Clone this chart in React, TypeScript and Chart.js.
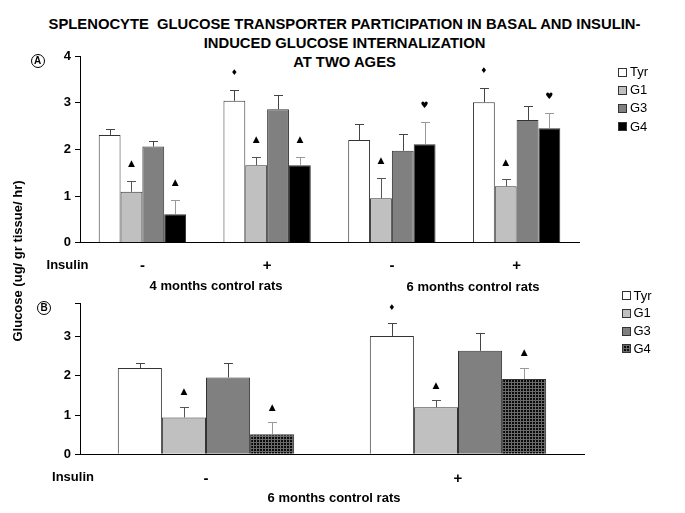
import React, { useEffect, useRef } from "react";
import { Chart, registerables } from "chart.js";

Chart.register(...registerables);

// ---------- text ----------
const TITLE_LINES = [
  "SPLENOCYTE  GLUCOSE TRANSPORTER PARTICIPATION IN BASAL AND INSULIN-",
  "INDUCED GLUCOSE INTERNALIZATION",
  "AT TWO AGES",
];
const Y_TITLE = "Glucose (ug/ gr tissue/ hr)";
const X_ROW_TITLE = "Insulin";
const SERIES = ["Tyr", "G1", "G3", "G4"];

// ---------- panel A (4 and 6 months) ----------
const A_CATEGORIES = ["-", "+", "-", "+"];
const A_AGE_LABELS = ["4 months control rats", "6 months control rats"];
const A_Y_MAX = 4;
const A_TYR = [2.31, 3.04, 2.2, 3.01];
const A_G1 = [1.09, 1.66, 0.95, 1.21];
const A_G3 = [2.06, 2.86, 1.97, 2.63];
const A_G4 = [0.61, 1.66, 2.11, 2.45];
const A_TYR_ERR = [0.12, 0.24, 0.34, 0.3];
const A_G1_ERR = [0.23, 0.18, 0.44, 0.15];
const A_G3_ERR = [0.12, 0.3, 0.35, 0.3];
const A_G4_ERR = [0.31, 0.18, 0.47, 0.32];
const A_TYR_MARK = ["", "♦", "", "♦"];
const A_G1_MARK = ["▲", "▲", "▲", "▲"];
const A_G3_MARK = ["", "", "", ""];
const A_G4_MARK = ["▲", "▲", "♥", "♥"];

// ---------- panel B (6 months) ----------
const B_CATEGORIES = ["-", "+"];
const B_AGE_LABEL = "6 months control rats";
const B_Y_MAX = 3.85;
const B_TYR = [2.2, 3.02];
const B_G1 = [0.94, 1.2];
const B_G3 = [1.96, 2.64];
const B_G4 = [0.51, 1.92];
const B_TYR_ERR = [0.12, 0.32];
const B_G1_ERR = [0.27, 0.18];
const B_G3_ERR = [0.38, 0.46];
const B_G4_ERR = [0.31, 0.28];
const B_TYR_MARK = ["", "♦"];
const B_G1_MARK = ["▲", "▲"];
const B_G3_MARK = ["", ""];
const B_G4_MARK = ["▲", "▲"];

// ---------- styles ----------
const FONT = '"Liberation Sans", Arial, Helvetica, sans-serif';
const FILL_A = ["#ffffff", "#c0c0c0", "#808080", "#000000"];
const FILL_B = ["#ffffff", "#c0c0c0", "#808080", "pattern"];
const ERR_COLORS = ["#444444", "#555555", "#444444", "#9a9a9a"];
const PATTERN_DARK = "#0a0a0a";
const PATTERN_LINE = "#6a6a6a";
const OFF = 8; // body margin

Chart.defaults.font.family = FONT;
Chart.defaults.color = "#000";

function makePattern(): CanvasPattern | string {
  const c = document.createElement("canvas");
  c.width = 3;
  c.height = 3;
  const g = c.getContext("2d");
  if (!g) return "#222";
  g.fillStyle = PATTERN_DARK;
  g.fillRect(0, 0, 3, 3);
  g.fillStyle = PATTERN_LINE;
  g.fillRect(0, 2, 3, 1);
  g.fillRect(2, 0, 1, 3);
  const p = g.createPattern(c, "repeat");
  return p || "#222";
}

const errorBarPlugin = {
  id: "errorBars",
  afterDatasetsDraw(chart: any, _args: any, opts: any) {
    const { ctx } = chart;
    const y = chart.scales.y;
    chart.data.datasets.forEach((ds: any, di: number) => {
      const meta = chart.getDatasetMeta(di);
      meta.data.forEach((bar: any, i: number) => {
        const v = ds.data[i];
        const e = opts.errors[di][i];
        const top = y.getPixelForValue(v + e);
        const base = y.getPixelForValue(v);
        const x = Math.round(bar.x) + 0.5;
        const ty = Math.round(top) + 0.5;
        ctx.save();
        ctx.strokeStyle = opts.colors[di];
        ctx.lineWidth = 1;
        ctx.beginPath();
        ctx.moveTo(x, base);
        ctx.lineTo(x, ty);
        ctx.moveTo(x - 4.5, ty);
        ctx.lineTo(x + 4.5, ty);
        ctx.stroke();
        const m = opts.markers[di][i];
        if (m) {
          const size = m === "♥" ? 9 : m === "♦" ? 8 : 9;
          ctx.fillStyle = "#000";
          ctx.font = `${size}px "DejaVu Sans", sans-serif`;
          ctx.textAlign = "center";
          ctx.textBaseline = "middle";
          ctx.fillText(m, bar.x, top - opts.gap);
        }
        ctx.restore();
      });
    });
  },
};

type PanelProps = {
  top: number;
  height: number;
  categories: string[];
  series: number[][];
  errors: number[][];
  markers: string[][];
  fills: string[];
  yMax: number;
  padding: { left: number; right: number; top: number; bottom: number };
  xHeight: number;
  xTickPad: number;
  markerGap: number;
};

function BarPanel(p: PanelProps) {
  const ref = useRef<HTMLCanvasElement>(null);
  useEffect(() => {
    const canvas = ref.current;
    if (!canvas) return;
    const colors = p.fills.map((f) => (f === "pattern" ? makePattern() : f));
    const chart = new Chart(canvas, {
      type: "bar",
      data: {
        labels: p.categories,
        datasets: p.series.map((s, i) => ({
          label: SERIES[i],
          data: s,
          backgroundColor: colors[i] as any,
          borderColor: "#333",
          borderWidth: 1,
          categoryPercentage: 0.7,
          barPercentage: 1,
        })),
      },
      options: {
        animation: false,
        responsive: false,
        maintainAspectRatio: false,
        layout: { padding: p.padding },
        plugins: {
          legend: { display: false },
          tooltip: { enabled: false },
          // @ts-ignore
          errorBars: {
            errors: p.errors,
            markers: p.markers,
            colors: ERR_COLORS,
            gap: p.markerGap,
          },
        },
        scales: {
          x: {
            grid: { display: false, drawTicks: false },
            border: { display: true, color: "#000", width: 1 },
            ticks: {
              color: "#000",
              padding: p.xTickPad,
              font: { size: 15, weight: "bold" },
            },
            afterFit: (s: any) => {
              s.height = p.xHeight;
            },
          },
          y: {
            min: 0,
            max: p.yMax,
            ticks: {
              stepSize: 1,
              color: "#000",
              padding: 4,
              font: { size: 13, weight: "bold" },
              callback: (v: any) => (Number.isInteger(v) ? String(v) : ""),
            },
            grid: {
              drawOnChartArea: false,
              drawTicks: true,
              tickLength: 5,
              color: "#000",
            },
            border: { display: true, color: "#000", width: 1 },
            afterFit: (s: any) => {
              s.width = 40;
            },
          },
        },
      },
      plugins: [errorBarPlugin as any],
    });
    return () => chart.destroy();
  }, []);
  return (
    <canvas
      ref={ref}
      width={669}
      height={p.height}
      style={{ position: "absolute", left: 0, top: p.top - OFF, width: 669, height: p.height }}
    />
  );
}

function Label(props: { text: string; x: number; y: number; size?: number; bold?: boolean; rotate?: boolean }) {
  const { text, x, y, size = 13, bold = true, rotate = false } = props;
  return (
    <div
      style={{
        position: "absolute",
        left: x - OFF,
        top: y - OFF,
        transform: `translate(-50%, -50%)${rotate ? " rotate(-90deg)" : ""}`,
        whiteSpace: "pre",
        fontFamily: FONT,
        fontSize: size,
        fontWeight: bold ? "bold" : "normal",
        lineHeight: 1,
        color: "#000",
      }}
    >
      {text}
    </div>
  );
}

function Circled(props: { letter: string; x: number; y: number }) {
  return (
    <div
      style={{
        position: "absolute",
        left: props.x - OFF - 7,
        top: props.y - OFF - 7,
        width: 14,
        height: 14,
        boxSizing: "border-box",
        border: "1.5px solid #000",
        borderRadius: "50%",
        fontFamily: FONT,
        fontSize: 10,
        fontWeight: "bold",
        lineHeight: "11px",
        textAlign: "center",
        color: "#000",
      }}
    >
      {props.letter}
    </div>
  );
}

function Legend(props: { x: number; y: number; step: number; fills: string[] }) {
  return (
    <div style={{ position: "absolute", left: props.x - OFF, top: props.y - OFF - 8 }}>
      {SERIES.map((s, i) => {
        const f = props.fills[i];
        const bg: React.CSSProperties =
          f === "pattern"
            ? {
                backgroundColor: PATTERN_DARK,
                backgroundImage: `linear-gradient(${PATTERN_LINE} 1px, transparent 1px), linear-gradient(90deg, ${PATTERN_LINE} 1px, transparent 1px)`,
                backgroundSize: "3px 3px",
              }
            : { backgroundColor: f };
        return (
          <div
            key={s}
            style={{
              position: "absolute",
              left: 0,
              top: i * props.step,
              height: 16,
              display: "flex",
              alignItems: "center",
              whiteSpace: "nowrap",
            }}
          >
            <span
              style={{
                display: "inline-block",
                width: 9,
                height: 9,
                boxSizing: "border-box",
                border: "1px solid #333",
                ...bg,
              }}
            />
            <span style={{ marginLeft: 3, fontFamily: FONT, fontSize: 13, color: "#000", lineHeight: "16px" }}>{s}</span>
          </div>
        );
      })}
    </div>
  );
}

export default function App() {
  return (
    <div style={{ position: "relative", width: 669, height: 497, overflow: "hidden", background: "#fff" }}>
      <div
        style={{
          position: "absolute",
          left: 0,
          top: 24 - 9.5 - OFF,
          width: 673,
          textAlign: "center",
          fontFamily: FONT,
          fontWeight: "bold",
          fontSize: 14.8,
          lineHeight: "19px",
          whiteSpace: "pre",
          color: "#000",
        }}
      >
        {TITLE_LINES.join("\n")}
      </div>

      <BarPanel
        top={40}
        height={262}
        categories={A_CATEGORIES}
        series={[A_TYR, A_G1, A_G3, A_G4]}
        errors={[A_TYR_ERR, A_G1_ERR, A_G3_ERR, A_G4_ERR]}
        markers={[A_TYR_MARK, A_G1_MARK, A_G3_MARK, A_G4_MARK]}
        fills={FILL_A}
        yMax={A_Y_MAX}
        padding={{ left: 32, right: 98, top: 16, bottom: 0 }}
        xHeight={59.3}
        xTickPad={14}
        markerGap={17}
      />
      <BarPanel
        top={290}
        height={215}
        categories={B_CATEGORIES}
        series={[B_TYR, B_G1, B_G3, B_G4]}
        errors={[B_TYR_ERR, B_G1_ERR, B_G3_ERR, B_G4_ERR]}
        markers={[B_TYR_MARK, B_G1_MARK, B_G3_MARK, B_G4_MARK]}
        fills={FILL_B}
        yMax={B_Y_MAX}
        padding={{ left: 32, right: 93, top: 13.4, bottom: 0 }}
        xHeight={50.7}
        xTickPad={16}
        markerGap={15}
      />

      <Label text={Y_TITLE} x={17} y={261} rotate />
      <Circled letter="A" x={37.5} y={60.5} />
      <Circled letter="B" x={44} y={308} />

      <Label text={X_ROW_TITLE} x={67.5} y={263.5} />
      <Label text={A_AGE_LABELS[0]} x={216} y={285} />
      <Label text={A_AGE_LABELS[1]} x={473} y={286} />

      <Label text={X_ROW_TITLE} x={73} y={476} />
      <Label text={B_AGE_LABEL} x={334} y={497} />

      <Legend x={618} y={72} step={18.2} fills={FILL_A} />
      <Legend x={621.5} y={295.5} step={17.8} fills={FILL_B} />
    </div>
  );
}
